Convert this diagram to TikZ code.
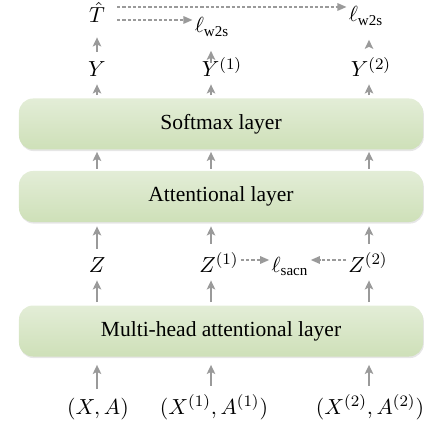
\documentclass[tikz,border=0pt]{standalone}
\usepackage{fontspec}
\setmainfont{Liberation Serif}
\usetikzlibrary{arrows.meta,shadows}
\definecolor{layertop}{HTML}{E3EDD7}
\definecolor{layerbot}{HTML}{CEE0B8}
\definecolor{arrowgray}{HTML}{9A9A9A}

\begin{document}
\begin{tikzpicture}[x=0.5bp,y=-0.5bp,font=\fontsize{10.8}{13}\selectfont,
  layerbox/.style={rounded corners=7bp,top color=layertop,bottom color=layerbot,
    minimum width=202bp,minimum height=25.5bp,inner sep=0pt,
    drop shadow={shadow xshift=0.4bp,shadow yshift=-0.8bp,opacity=0.2,fill=black!50}},
  lbl/.style={inner sep=1bp,anchor=base},
  up/.style={arrowgray,line width=1bp,-{Stealth[length=4.5bp,width=4.2bp,inset=1bp]}},
  dashto/.style={arrowgray,line width=0.6bp,dash pattern=on 1.6bp off 1bp,
    -{Triangle[length=4.5bp,width=3.8bp]}}]
\useasboundingbox (0,0) rectangle (424,426);
% columns of the three views
\coordinate (cL) at (97,0);
\coordinate (cM) at (211,0);
\coordinate (cR) at (369,0);

% top: targets and w2s losses
\node[lbl] (hatT) at (97,23) {$\hat{T}$};
\node[lbl] (lwa) at (212,33) {$\ell_{\mathrm{w2s}}$};
\node[lbl] (lwb) at (366,22) {$\ell_{\mathrm{w2s}}$};
\node[lbl] (yy) at (97,77) {$Y$};
\node[lbl] (ya) at (222,77) {$Y^{(1)}$};
\node[lbl] (yb) at (371,77) {$Y^{(2)}$};

% layers
\node[layerbox] (soft) at (221,124) {Softmax layer};
\node[layerbox] (att) at (221,196.5) {Attentional layer};
\node[layerbox] (mha) at (221,331) {Multi-head attentional layer};

% middle: embeddings and sacn loss
\node[lbl] (zz) at (97,272) {$Z$};
\node[lbl] (za) at (219,272) {$Z^{(1)}$};
\node[lbl] (ls) at (290,272) {$\ell_{\mathrm{sacn}}$};
\node[lbl] (zb) at (368,272) {$Z^{(2)}$};

% inputs
\node[lbl] (xa0) at (98,414) {$(X,A)$};
\node[lbl] (xa1) at (214,414) {$(X^{(1)},A^{(1)})$};
\node[lbl] (xa2) at (370,414) {$(X^{(2)},A^{(2)})$};

% upward flow
\foreach \c/\y/\t in {cL/yy/hatT,cM/ya/lwa,cR/yb/lwb}{
  \draw[up,shorten <=4bp,shorten >=6bp] (\y.north -| \c) -- (\t.south -| \c);
  \draw[up,shorten <=1.5bp,shorten >=2.5bp] (soft.north -| \c) -- (\y.south -| \c);
  \draw[up,shorten <=1bp,shorten >=1bp] (att.north -| \c) -- (soft.south -| \c);
}
\foreach \c/\z/\x in {cL/zz/xa0,cM/za/xa1,cR/zb/xa2}{
  \draw[up,shorten <=3bp,shorten >=2bp] (\z.north -| \c) -- (att.south -| \c);
  \draw[up,shorten <=1.5bp,shorten >=3bp] (mha.north -| \c) -- (\z.south -| \c);
  \draw[up,shorten <=3bp,shorten >=4bp] (\x.north -| \c) -- (mha.south -| \c);
}

% losses
\draw[dashto,shorten <=5bp] ([yshift=8bp]hatT.base east) -- ([yshift=8bp]hatT.base east -| lwb.west);
\draw[dashto,shorten <=5bp] ([yshift=1.5bp]hatT.base east) -- ([yshift=1.5bp]hatT.base east -| lwa.west);
\draw[dashto] ([yshift=6bp]za.base east) -- ([yshift=6bp]za.base east -| ls.west);
\draw[dashto] ([yshift=6bp]zb.base west) -- ([yshift=6bp]zb.base west -| ls.east);
\end{tikzpicture}
\end{document}
